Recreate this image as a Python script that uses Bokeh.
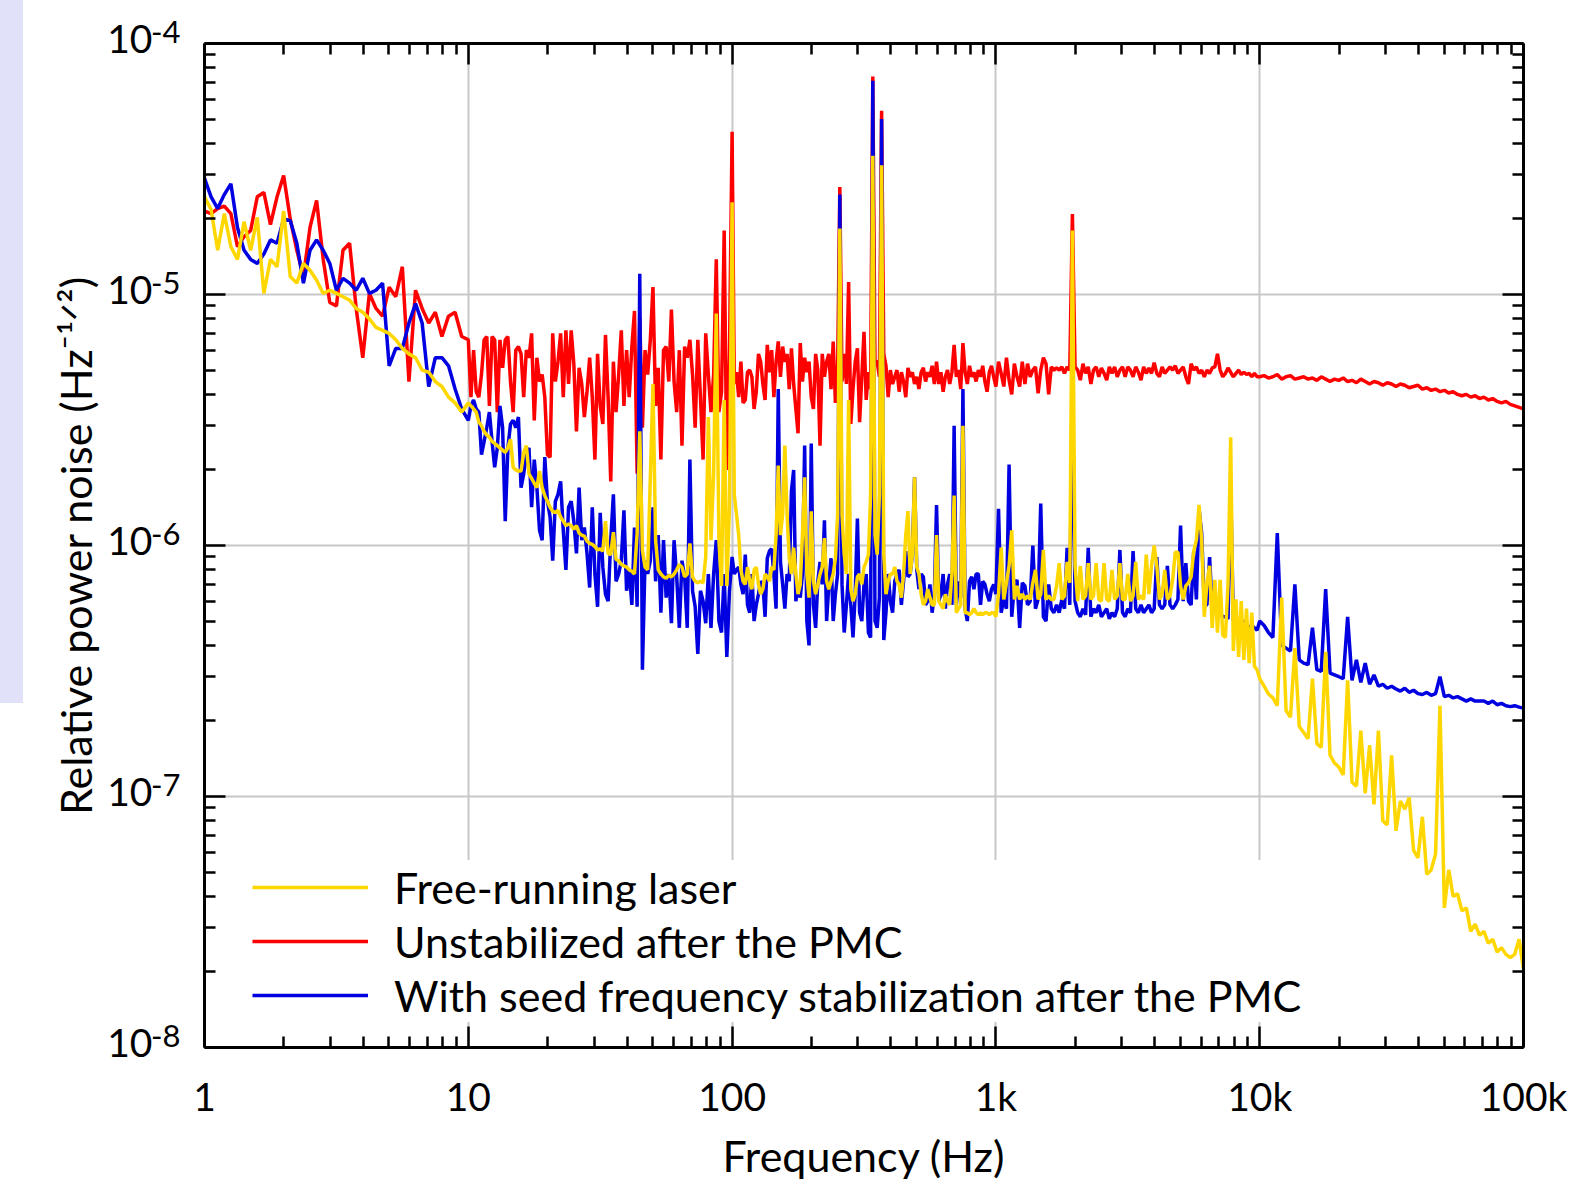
import numpy as np
from bokeh.plotting import figure
from bokeh.layouts import row
from bokeh.models import (LogAxis, FixedTicker, Legend, LegendItem, Div,
                          Range1d, CustomJSTickFormatter)
from bokeh.embed import file_html
from bokeh.resources import INLINE

# ---------------- data ----------------
# frequency sampling: (start Hz, stop Hz, number of points) per decade segment
SEGMENTS = [(1, 10, 40), (10, 100, 100), (100, 1000, 120), (1000, 10000, 100), (10000, 100000, 60)]
UNIT = 1e-6  # values below are in units of 1e-6 Hz^-1/2

# Free-running laser (yellow)
FREE_A = [24.5, 21.8, 15, 21, 15.5, 13.8, 19.5, 15, 20.3, 10.1,
          13.8, 12.9, 21.5, 11.8, 11.1, 13.3, 12.5, 11.4, 10.1, 10.4,
          10.1, 9.8, 9.5, 8.8, 8.5, 8.0, 7.4, 7.2, 7.0, 6.6,
          6.1, 5.8, 5.6, 5.0, 4.9, 4.5, 4.3, 3.9, 3.7, 3.4]
FREE_B = [3.7, 3.6, 3.5, 3.4, 3.1, 3.0, 2.85, 2.75, 2.7, 2.6,
          2.55, 2.5, 2.45, 2.4, 2.35, 2.45, 2.65, 2.05, 2.0, 1.98,
          1.98, 2.35, 2.5, 1.93, 1.85, 1.77, 1.7, 1.98, 1.7, 1.58,
          1.5, 1.42, 1.37, 1.35, 1.38, 1.3, 1.25, 1.2, 1.22, 1.2,
          1.16, 1.2, 1.12, 1.1, 1.09, 1.04, 1.02, 1.01, 0.99, 0.96,
          0.97, 0.95, 1.25, 0.93, 0.92, 1.13, 0.88, 0.87, 0.84, 0.83,
          0.82, 0.8, 0.79, 0.77, 1.12, 2.85, 0.96, 0.82, 0.8, 1.85,
          4.4, 1.05, 0.8, 0.77, 0.75, 0.74, 0.76, 0.75, 0.77, 0.8,
          0.84, 0.82, 0.75, 0.77, 1.02, 0.75, 0.72, 0.71, 0.72, 0.71,
          0.9, 3.25, 1.05, 1.93, 8.4, 1.05, 0.69, 3.8, 0.69, 1.42]
FREE_C = [23.3, 1.59, 1.33, 1.1, 0.8, 0.72, 0.7, 0.82, 0.72, 0.67,
          0.8, 0.82, 0.7, 0.64, 0.67, 0.77, 0.75, 0.72, 0.82, 0.8,
          1.1, 2.08, 1.1, 1.33, 2.5, 1.33, 0.89, 0.77, 0.98, 0.77,
          0.64, 0.7, 1.1, 1.87, 0.77, 0.62, 1.37, 0.72, 0.64, 0.7,
          0.77, 0.82, 1.07, 0.72, 0.67, 0.72, 0.77, 0.89, 1.33, 18.3,
          1.33, 0.92, 0.77, 3.8, 0.67, 0.6, 0.64, 0.75, 0.77, 0.7,
          0.82, 0.86, 0.92, 1.59, 35.7, 1.1, 0.92, 1.59, 32.7, 0.92,
          0.64, 0.72, 0.77, 0.77, 0.82, 0.72, 0.7, 0.62, 0.77, 1.1,
          1.37, 0.77, 0.92, 1.87, 0.82, 0.77, 0.64, 0.58, 0.6, 0.67,
          0.62, 0.58, 0.58, 1.1, 0.6, 0.58, 0.56, 0.64, 0.6, 0.58,
          0.77, 1.58, 0.54, 0.56, 0.58, 3.0, 0.54, 0.54, 0.53, 0.54,
          0.56, 0.54, 0.53, 0.54, 0.53, 0.54, 0.54, 0.53, 0.54, 0.54]
FREE_D = [0.52, 0.64, 0.98, 0.61, 0.71, 0.83, 1.15, 0.61, 0.69, 0.61,
          0.64, 0.61, 0.63, 0.61, 0.71, 0.8, 0.61, 0.64, 0.96, 0.61,
          0.63, 0.61, 0.61, 0.69, 0.85, 0.61, 0.63, 0.86, 0.71, 18.0,
          0.83, 0.6, 0.83, 0.61, 0.63, 0.85, 0.61, 0.63, 0.85, 0.61,
          0.6, 0.85, 0.61, 0.6, 0.8, 0.61, 0.63, 0.85, 0.61, 0.61,
          0.77, 0.6, 0.63, 0.86, 0.61, 0.63, 0.61, 0.92, 0.64, 0.83,
          1.0, 0.83, 0.61, 0.64, 0.8, 0.61, 0.63, 0.73, 0.94, 0.94,
          0.69, 0.61, 0.69, 0.71, 0.75, 0.95, 1.05, 1.45, 1.05, 0.52,
          0.71, 0.83, 0.47, 0.73, 0.45, 0.73, 0.44, 0.43, 0.71, 2.7,
          0.38, 0.61, 0.36, 0.6, 0.35, 0.56, 0.34, 0.54, 0.33, 0.32]
FREE_E = [0.295, 0.275, 0.256, 0.247, 0.23, 0.62, 0.22, 0.207, 0.39, 0.19,
          0.18, 0.17, 0.295, 0.162, 0.157, 0.377, 0.146, 0.136, 0.131, 0.122,
          0.29, 0.114, 0.11, 0.183, 0.103, 0.16, 0.093, 0.183, 0.08, 0.077,
          0.146, 0.073, 0.096, 0.089, 0.099, 0.061, 0.057, 0.083, 0.049, 0.051,
          0.059, 0.23, 0.036, 0.051, 0.040, 0.041, 0.035, 0.036, 0.029, 0.031,
          0.028, 0.029, 0.026, 0.027, 0.024, 0.025, 0.0235, 0.0228, 0.0235, 0.027, 0.0205]

# Unstabilized after the PMC (red)
UNST_A = [21.5, 21, 22, 22.5, 21, 15.5, 17, 18, 24.5, 25.5,
          19, 24.5, 29.8, 20, 15, 11.8, 18.5, 23.7, 13.8, 9.3,
          9.0, 15, 16, 8.8, 5.6, 10.1, 8.8, 8.2, 10.7, 9.8,
          12.9, 4.5, 10.4, 8.8, 7.7, 8.5, 6.8, 8.2, 8.5, 6.8]
UNST_B = [6.6, 3.9, 6.0, 4.1, 3.9, 4.8, 6.6, 6.8, 3.6, 6.8,
          6.6, 3.4, 6.6, 5.1, 6.6, 6.8, 4.5, 3.4, 6.0, 6.2,
          5.8, 3.9, 6.0, 5.6, 7.0, 3.15, 5.6, 4.5, 4.8, 3.9,
          2.3, 2.25, 7.0, 4.5, 5.4, 7.0, 3.9, 7.2, 4.4, 7.2,
          5.3, 2.85, 5.1, 4.4, 3.25, 4.1, 5.6, 3.9, 2.2, 5.8,
          3.6, 3.05, 6.9, 3.9, 1.8, 5.4, 3.4, 4.8, 7.2, 3.6,
          6.0, 3.9, 6.2, 8.6, 1.93, 8.1, 2.95, 6.0, 4.8, 6.6,
          10.7, 3.6, 5.1, 2.2, 6.0, 6.2, 4.5, 8.7, 4.5, 3.4,
          6.0, 2.5, 6.2, 5.6, 6.6, 4.8, 2.95, 6.6, 3.9, 2.2,
          7.0, 4.8, 3.4, 4.8, 13.8, 3.4, 4.1, 18, 2.0, 5.8]
UNST_C = [44.5, 4.4, 4.9, 3.9, 5.4, 3.7, 3.8, 4.9, 5.0, 4.7,
          3.5, 4.1, 5.8, 5.4, 4.4, 3.8, 6.3, 4.9, 6.0, 3.9,
          5.4, 6.5, 4.7, 6.2, 5.4, 5.8, 4.2, 6.1, 4.4, 3.5,
          2.8, 6.4, 4.5, 5.6, 4.9, 5.4, 3.9, 3.5, 5.8, 5.0,
          2.5, 5.8, 4.7, 5.4, 5.8, 4.2, 6.5, 3.7, 5.0, 26.8,
          4.5, 5.8, 4.4, 11.2, 3.05, 4.2, 5.4, 6.1, 3.1, 4.7,
          7.1, 3.8, 4.9, 4.2, 73.8, 5.4, 5.4, 4.7, 54, 5.8,
          5.2, 3.9, 5.0, 4.4, 4.7, 5.0, 4.1, 4.9, 4.5, 3.9,
          5.1, 4.7, 4.9, 4.4, 4.7, 4.2, 4.9, 5.1, 4.5, 4.9,
          4.7, 5.2, 4.4, 5.4, 4.4, 4.9, 4.1, 4.7, 5.0, 4.4,
          4.9, 6.3, 4.7, 5.0, 4.2, 6.4, 4.9, 4.4, 5.2, 4.7,
          4.9, 4.5, 5.0, 4.7, 5.2, 4.5, 4.1, 4.9, 5.2, 4.7]
UNST_D = [4.3, 5.4, 4.85, 4.3, 5.6, 4.56, 4.0, 5.3, 4.7, 4.3,
          5.4, 4.4, 5.3, 4.7, 5.0, 5.15, 4.04, 5.0, 5.6, 5.3,
          4.0, 5.15, 5.0, 5.1, 5.0, 5.15, 4.85, 5.15, 5.0, 20.9,
          5.15, 5.0, 4.56, 5.3, 4.85, 5.15, 4.4, 5.0, 5.15, 4.7,
          5.1, 4.85, 4.56, 5.15, 4.85, 5.15, 4.7, 5.0, 5.15, 4.7,
          5.15, 5.0, 4.7, 5.15, 4.9, 4.56, 5.15, 4.85, 5.1, 4.85,
          5.35, 4.85, 4.7, 5.15, 4.85, 5.0, 5.15, 5.0, 5.2, 4.85,
          5.0, 5.15, 4.7, 4.4, 5.3, 5.0, 5.15, 4.85, 5.0, 4.7,
          5.0, 4.85, 5.1, 5.15, 5.8, 5.0, 4.7, 4.85, 5.1, 4.9,
          4.7, 4.85, 5.0, 4.8, 4.9, 4.8, 4.85, 4.7, 4.85, 4.7]
UNST_E = [4.7, 4.75, 4.65, 4.7, 4.8, 4.6, 4.7, 4.75, 4.6, 4.65,
          4.7, 4.6, 4.65, 4.55, 4.7, 4.6, 4.5, 4.6, 4.55, 4.65,
          4.5, 4.55, 4.45, 4.6, 4.5, 4.4, 4.5, 4.45, 4.35, 4.45,
          4.4, 4.3, 4.4, 4.35, 4.25, 4.3, 4.35, 4.2, 4.25, 4.15,
          4.2, 4.1, 4.15, 4.05, 4.1, 4.0, 3.95, 4.0, 3.9, 3.95,
          3.85, 3.9, 3.8, 3.85, 3.75, 3.7, 3.75, 3.65, 3.6, 3.55, 3.5]

# With seed frequency stabilization after the PMC (blue)
SEED_A = [29, 24.5, 22, 25, 27.6, 18.5, 15, 13.8, 13.3, 14.5,
          16.5, 16, 20, 19.7, 16, 11.1, 15, 16.5, 15, 13.3,
          10.4, 11.6, 11.1, 10.4, 11.6, 10.1, 10.4, 11.1, 5.2, 6.1,
          6.1, 7.7, 9.2, 7.7, 4.3, 5.6, 5.6, 5.2, 4.2, 3.5]
SEED_B = [3.15, 3.6, 3.8, 3.5, 3.4, 2.3, 2.6, 2.95, 3.4, 2.6,
          2.05, 2.45, 3.6, 2.95, 1.25, 2.45, 3.05, 3.15, 2.95, 3.25,
          1.7, 1.93, 2.3, 2.45, 1.42, 2.2, 1.7, 1.15, 1.05, 2.25,
          1.5, 1.3, 0.87, 1.5, 1.6, 1.8, 1.15, 0.8, 1.42, 1.5,
          1.25, 0.93, 1.7, 1.05, 1.18, 0.93, 0.68, 1.42, 0.77, 0.57,
          1.35, 0.82, 0.64, 0.6, 1.05, 1.6, 0.72, 0.77, 0.87, 1.38,
          0.66, 0.8, 0.58, 1.18, 0.57, 12.1, 0.32, 0.87, 0.77, 0.87,
          1.42, 0.72, 1.1, 0.54, 1.05, 0.62, 0.77, 0.49, 1.05, 0.75,
          0.47, 0.87, 0.75, 0.47, 2.2, 0.66, 0.57, 0.37, 0.66, 0.6,
          0.49, 0.77, 0.47, 0.77, 1.05, 0.5, 0.45, 0.77, 0.36, 0.66]
SEED_C = [0.9, 0.77, 0.8, 0.82, 0.7, 0.64, 0.92, 0.58, 0.54, 0.77,
          0.5, 0.58, 0.64, 0.72, 0.7, 0.52, 0.89, 0.95, 0.97, 0.77,
          0.56, 4.2, 0.86, 0.7, 0.56, 0.77, 0.72, 1.65, 2.0, 0.6,
          0.7, 0.62, 0.77, 2.5, 0.5, 0.4, 2.55, 0.58, 0.47, 0.72,
          0.86, 0.7, 1.26, 0.5, 0.7, 0.89, 0.5, 0.64, 0.77, 25,
          0.7, 0.45, 0.58, 0.77, 0.58, 0.43, 0.64, 1.28, 0.54, 0.5,
          0.7, 0.77, 0.45, 0.43, 71, 0.5, 0.47, 0.62, 50, 0.42,
          0.54, 0.77, 0.6, 0.54, 0.72, 0.77, 0.8, 0.58, 0.72, 0.95,
          0.75, 0.77, 0.92, 1.87, 0.8, 0.67, 0.77, 0.75, 0.58, 0.6,
          0.7, 0.54, 0.64, 1.45, 0.6, 0.64, 0.77, 0.56, 0.7, 0.77,
          0.58, 3.0, 0.58, 0.72, 0.62, 4.2, 0.56, 0.5, 0.72, 0.75,
          0.67, 0.77, 0.77, 0.58, 0.72, 0.7, 0.64, 0.6, 0.67, 0.7]
SEED_D = [0.64, 1.4, 0.54, 0.61, 0.56, 2.1, 0.52, 0.69, 0.73, 0.47,
          0.71, 0.69, 0.58, 0.6, 1.0, 0.56, 0.61, 1.47, 0.52, 0.5,
          0.7, 0.56, 0.54, 0.58, 0.54, 0.61, 0.56, 0.98, 0.58, 4.5,
          0.6, 0.54, 0.52, 0.56, 0.53, 0.98, 0.52, 0.56, 0.54, 0.58,
          0.52, 0.54, 0.56, 0.51, 0.54, 0.52, 0.56, 0.96, 0.54, 0.52,
          0.56, 0.54, 0.95, 0.56, 0.54, 0.58, 0.54, 0.56, 0.58, 0.54,
          0.56, 0.9, 0.58, 0.56, 0.58, 0.83, 0.58, 0.56, 0.58, 0.61,
          1.2, 0.6, 0.85, 0.6, 0.58, 0.95, 0.61, 1.4, 1.12, 0.58,
          0.58, 0.9, 0.56, 0.56, 0.54, 0.54, 0.52, 0.52, 0.51, 1.7,
          0.5, 0.5, 0.5, 0.49, 0.5, 0.49, 0.47, 0.48, 0.47, 0.46]
SEED_E = [0.5, 0.48, 0.45, 0.43, 1.12, 0.4, 0.39, 0.38, 0.7, 0.35,
          0.34, 0.335, 0.47, 0.32, 0.315, 0.67, 0.31, 0.305, 0.3, 0.295,
          0.52, 0.29, 0.35, 0.285, 0.34, 0.28, 0.305, 0.275, 0.28, 0.27,
          0.275, 0.268, 0.263, 0.27, 0.26, 0.265, 0.257, 0.255, 0.26, 0.253,
          0.257, 0.3, 0.25, 0.253, 0.247, 0.25, 0.245, 0.24, 0.245, 0.24,
          0.24, 0.24, 0.235, 0.24, 0.232, 0.235, 0.23, 0.228, 0.23, 0.227, 0.225]

X_TICKS = [1, 10, 100, 1000, 10000, 100000]
X_TICK_LABELS = ["1", "10", "100", "1k", "10k", "100k"]
Y_TICKS = [1e-8, 1e-7, 1e-6, 1e-5, 1e-4]
Y_TICK_BASES = ["10", "10", "10", "10", "10"]
Y_TICK_EXPONENTS = ["-8", "-7", "-6", "-5", "-4"]
LEGEND_LABELS = ["Free-running laser", "Unstabilized after the PMC",
                 "With seed frequency stabilization after the PMC"]
X_LABEL = "Frequency (Hz)"
Y_LABEL = "Relative power noise (Hz\u207b\u00b9\u141f\u00b2)"

# ---------------- build ----------------
FONT = "Lato"
YELLOW, RED, BLUE = "#FFD700", "#FF0000", "#0000E0"
LW = 3.5

freq = np.concatenate([np.geomspace(a, b, n, endpoint=False) for a, b, n in SEGMENTS]
                      + [np.array([float(SEGMENTS[-1][1])])])
free = np.array(FREE_A + FREE_B + FREE_C + FREE_D + FREE_E) * UNIT
unst = np.array(UNST_A + UNST_B + UNST_C + UNST_D + UNST_E) * UNIT
seed = np.array(SEED_A + SEED_B + SEED_C + SEED_D + SEED_E) * UNIT
assert len(free) == len(freq) and len(unst) == len(freq) and len(seed) == len(freq)

FRAME_W, FRAME_H = 1319, 1004
STRIP_W = 23
p = figure(frame_width=FRAME_W, frame_height=FRAME_H,
           x_axis_type="log", y_axis_type="log",
           x_range=Range1d(1, 1e5), y_range=Range1d(1e-8, 1e-4),
           output_backend="svg", toolbar_location=None,
           min_border_left=204 - STRIP_W, min_border_top=43,
           min_border_right=50, min_border_bottom=138)
p.outline_line_color = None
p.background_fill_color = "white"
p.border_fill_color = "white"

bottom_ax = p.below[0]
left_ax = p.left[0]

minor_x = [m * 10.0 ** k for k in range(5) for m in range(2, 10)]
minor_y = [m * 10.0 ** k for k in range(-8, -4) for m in range(2, 10)]
xt = FixedTicker(ticks=X_TICKS, minor_ticks=minor_x)
yt = FixedTicker(ticks=Y_TICKS, minor_ticks=minor_y)

blank = CustomJSTickFormatter(code="return ''")
match_js = """
for (let i = 0; i < vals.length; i++) {
  if (Math.abs(Math.log10(tick) - Math.log10(vals[i])) < 1e-6) return labs[i] + tail;
}
return '';
"""
xfmt = CustomJSTickFormatter(args=dict(vals=X_TICKS, labs=X_TICK_LABELS, tail=""), code=match_js)
# a trailing empty line lifts the label above the tick (label block is centred on the tick)
base_fmt = CustomJSTickFormatter(args=dict(vals=Y_TICKS, labs=Y_TICK_BASES, tail="\n"), code=match_js)
exp_fmt = CustomJSTickFormatter(args=dict(vals=Y_TICKS, labs=Y_TICK_EXPONENTS, tail="\n"), code=match_js)

top_ax = LogAxis(ticker=xt, formatter=blank)
right_ax = LogAxis(ticker=yt, formatter=blank)
p.add_layout(top_ax, "above")
p.add_layout(right_ax, "right")

bottom_ax.ticker = xt
left_ax.ticker = yt
bottom_ax.formatter = xfmt
left_ax.formatter = blank

for ax in [bottom_ax, left_ax, top_ax, right_ax]:
    ax.axis_line_width = 3
    ax.axis_line_color = "black"
    ax.major_tick_in = 21
    ax.major_tick_out = 0
    ax.minor_tick_in = 11
    ax.minor_tick_out = 0
    ax.major_tick_line_width = 2.5
    ax.minor_tick_line_width = 2.5
    ax.major_tick_line_color = "black"
    ax.minor_tick_line_color = "black"

for ax in [top_ax, right_ax, left_ax]:
    ax.major_label_text_font_size = "0px"
    ax.major_label_standoff = 0

bottom_ax.major_label_text_font = FONT
bottom_ax.major_label_text_font_size = "39px"
bottom_ax.major_label_text_color = "black"
bottom_ax.major_label_standoff = 25
bottom_ax.axis_label = X_LABEL
bottom_ax.axis_label_text_font = FONT
bottom_ax.axis_label_text_font_size = "43px"
bottom_ax.axis_label_text_font_style = "normal"
bottom_ax.axis_label_text_color = "black"
bottom_ax.axis_label_standoff = 8

# y tick labels: exponent axis (inner) and base "10" axis (outer), lines/ticks hidden
def label_axis(fmt, size, standoff, line_height):
    ax = LogAxis(ticker=yt, formatter=fmt)
    ax.axis_line_color = None
    ax.major_tick_line_color = None
    ax.minor_tick_line_color = None
    ax.major_tick_in = 0
    ax.major_tick_out = 0
    ax.minor_tick_in = 0
    ax.minor_tick_out = 0
    ax.major_label_text_font = FONT
    ax.major_label_text_font_size = size
    ax.major_label_text_color = "black"
    ax.major_label_text_line_height = line_height
    ax.major_label_standoff = standoff
    return ax

exp_ax = label_axis(exp_fmt, "31px", 24, 0.645)
base_ax = label_axis(base_fmt, "39px", -4, 0.26)
base_ax.axis_label = Y_LABEL
base_ax.axis_label_text_font = FONT
base_ax.axis_label_text_font_size = "43px"
base_ax.axis_label_text_font_style = "normal"
base_ax.axis_label_text_color = "black"
base_ax.axis_label_standoff = 3
p.add_layout(exp_ax, "left")
p.add_layout(base_ax, "left")

p.xgrid.ticker = xt
p.ygrid.ticker = yt
for g in [p.xgrid, p.ygrid]:
    g.grid_line_color = "#c8c8c8"
    g.grid_line_width = 2
    g.minor_grid_line_color = None

r_unst = p.line(freq, unst, line_color=RED, line_width=LW)
r_seed = p.line(freq, seed, line_color=BLUE, line_width=LW)
r_free = p.line(freq, free, line_color=YELLOW, line_width=LW)

legend = Legend(items=[LegendItem(label=LEGEND_LABELS[0], renderers=[r_free]),
                       LegendItem(label=LEGEND_LABELS[1], renderers=[r_unst]),
                       LegendItem(label=LEGEND_LABELS[2], renderers=[r_seed])],
                location=(48, 25))
legend.glyph_width = 116
legend.glyph_height = 54
legend.label_height = 54
legend.spacing = 0
legend.padding = 0
legend.margin = 0
legend.label_standoff = 26
legend.border_line_color = None
legend.background_fill_color = "white"
legend.background_fill_alpha = 1
legend.label_text_font = FONT
legend.label_text_font_size = "43px"
legend.label_text_color = "black"
legend.label_text_baseline = "middle"
p.add_layout(legend)

strip = Div(text="", width=STRIP_W, height=703, margin=0,
            styles={"background-color": "#E1E1FA"})
page = row(strip, p, spacing=0)

open("out.html", "w").write(file_html(page, INLINE))
